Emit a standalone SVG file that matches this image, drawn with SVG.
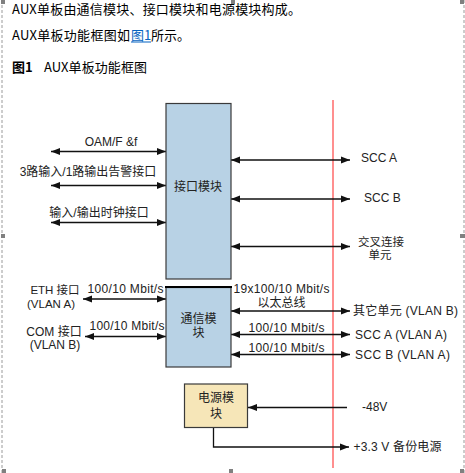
<svg xmlns="http://www.w3.org/2000/svg" width="465" height="473" viewBox="0 0 465 473">
<style>
.doc{font-family:"Noto Sans CJK SC","Liberation Serif",serif;font-size:13px;fill:#000}
.lbl{font-family:"Liberation Sans","Noto Sans CJK SC",sans-serif;font-size:12px;fill:#222}
.sm{font-size:11.5px}
.mid{text-anchor:middle}
.ln{stroke:#111;stroke-width:1.3;fill:none}
.box{stroke:#3a3a3a;stroke-width:1.2}
.h{fill:#808080}
</style>
<defs>
<marker id="ah" markerUnits="userSpaceOnUse" markerWidth="10" markerHeight="8" refX="9" refY="4" orient="auto-start-reverse">
<path d="M0,0.5 L9,4 L0,7.5 z" fill="#111"/>
</marker>
</defs>
<rect width="465" height="473" fill="#fff"/>
<g id="frame">
<line x1="2" y1="0" x2="2" y2="473" stroke="#9a9a9a" stroke-width="1" stroke-dasharray="3,2"/>
<line x1="464" y1="0" x2="464" y2="473" stroke="#9a9a9a" stroke-width="1" stroke-dasharray="3,2"/>
<rect class="h" x="1" y="0" width="4" height="4"/>
<rect class="h" x="231" y="0" width="4" height="4"/>
<rect class="h" x="460" y="0" width="4" height="4"/>
<rect class="h" x="460" y="234" width="5" height="4"/>
<rect class="h" x="1" y="234" width="4" height="4"/>
<rect class="h" x="2" y="469" width="4" height="4"/>
<rect class="h" x="229" y="469" width="4" height="4"/>
<rect class="h" x="460" y="469" width="4" height="4"/>
</g>
<g id="doc-text">
<text class="doc" x="12" y="13.5" textLength="289">AUX单板由通信模块、接口模块和电源模块构成。</text>
<text class="doc" x="12" y="39.5" textLength="118">AUX单板功能框图如</text>
<text class="doc" x="131" y="39.5" style="fill:#0563c1">图1</text>
<line x1="131" y1="42" x2="151" y2="42" stroke="#0563c1" stroke-width="1"/>
<text class="doc" x="151" y="39.5">所示。</text>
<text class="doc" x="12" y="72" font-weight="bold">图1</text>
<text class="doc" x="44" y="72" textLength="103">AUX单板功能框图</text>
</g>
<line id="boundary" x1="333" y1="100" x2="333" y2="468" stroke="#ff6a6a" stroke-width="1.5"/>
<g id="connectors">
<line class="ln" x1="51" y1="151.5" x2="166" y2="151.5" marker-start="url(#ah)" marker-end="url(#ah)"/>
<line class="ln" x1="51" y1="185.5" x2="166" y2="185.5" marker-start="url(#ah)" marker-end="url(#ah)"/>
<line class="ln" x1="51" y1="222.5" x2="166" y2="222.5" marker-start="url(#ah)" marker-end="url(#ah)"/>
<line class="ln" x1="231" y1="160" x2="350" y2="160" marker-start="url(#ah)" marker-end="url(#ah)"/>
<line class="ln" x1="231" y1="199" x2="350" y2="199" marker-start="url(#ah)" marker-end="url(#ah)"/>
<line class="ln" x1="231" y1="246.5" x2="350" y2="246.5" marker-start="url(#ah)" marker-end="url(#ah)"/>
<line class="ln" x1="83" y1="299" x2="166" y2="299" marker-start="url(#ah)" marker-end="url(#ah)"/>
<line class="ln" x1="85" y1="336.5" x2="166" y2="336.5" marker-start="url(#ah)" marker-end="url(#ah)"/>
<line class="ln" x1="231" y1="311" x2="350" y2="311" marker-start="url(#ah)" marker-end="url(#ah)"/>
<line class="ln" x1="231" y1="334.5" x2="350" y2="334.5" marker-start="url(#ah)" marker-end="url(#ah)"/>
<line class="ln" x1="231" y1="354.5" x2="350" y2="354.5" marker-start="url(#ah)" marker-end="url(#ah)"/>
<line class="ln" x1="347" y1="407.5" x2="248" y2="407.5" marker-end="url(#ah)"/>
<polyline class="ln" points="213.5,427 213.5,447 349,447" stroke-width="2" marker-end="url(#ah)"/>
</g>
<g id="interface-module">
<rect class="box" x="166" y="103.5" width="65" height="175.5" fill="#b8d2e5"/>
<text class="lbl mid" x="198" y="190.5">接口模块</text>
</g>
<g id="comm-module">
<rect class="box" x="166" y="287.5" width="65" height="79.5" fill="#b8d2e5"/>
<line x1="165" y1="287" x2="232" y2="287" stroke="#000" stroke-width="2.2"/>
<text class="lbl mid" x="198.5" y="322.8">通信模</text>
<text class="lbl mid" x="198.5" y="336.8">块</text>
</g>
<g id="power-module">
<rect class="box" x="184.5" y="384" width="63" height="43.5" fill="#f6e6b8"/>
<text class="lbl mid" x="216" y="401.8">电源模</text>
<text class="lbl mid" x="216" y="417.8">块</text>
</g>
<g id="labels">
<text class="lbl mid" x="111" y="146">OAM/F &amp;f</text>
<text class="lbl mid" x="88" y="176">3路输入/1路输出告警接口</text>
<text class="lbl mid" x="99" y="217">输入/输出时钟接口</text>
<text class="lbl" x="361" y="162">SCC A</text>
<text class="lbl" x="364" y="201.5">SCC B</text>
<text class="lbl sm mid" x="381" y="245.5">交叉连接</text>
<text class="lbl sm mid" x="380" y="259">单元</text>
<text class="lbl sm mid" x="55" y="294">ETH 接口</text>
<text class="lbl sm mid" x="51" y="307.5">(VLAN A)</text>
<text class="lbl" x="87.5" y="292.5" textLength="76">100/10 Mbit/s</text>
<text class="lbl mid" x="54" y="336">COM 接口</text>
<text class="lbl mid" x="55" y="348.5">(VLAN B)</text>
<text class="lbl" x="89.5" y="329.5" textLength="75">100/10 Mbit/s</text>
<text class="lbl" x="233.5" y="292.5" textLength="96">19x100/10 Mbit/s</text>
<text class="lbl mid" x="281.5" y="306.8">以太总线</text>
<text class="lbl" x="353" y="315" textLength="105">其它单元 (VLAN B)</text>
<text class="lbl" x="248.5" y="331.5" textLength="76">100/10 Mbit/s</text>
<text class="lbl" x="355" y="338.5" textLength="92">SCC A (VLAN A)</text>
<text class="lbl" x="248.5" y="352" textLength="76">100/10 Mbit/s</text>
<text class="lbl" x="355" y="359.3" textLength="95">SCC B (VLAN A)</text>
<text class="lbl" x="362" y="411">-48V</text>
<text class="lbl" x="353.5" y="451" textLength="88">+3.3 V 备份电源</text>
</g>
</svg>
